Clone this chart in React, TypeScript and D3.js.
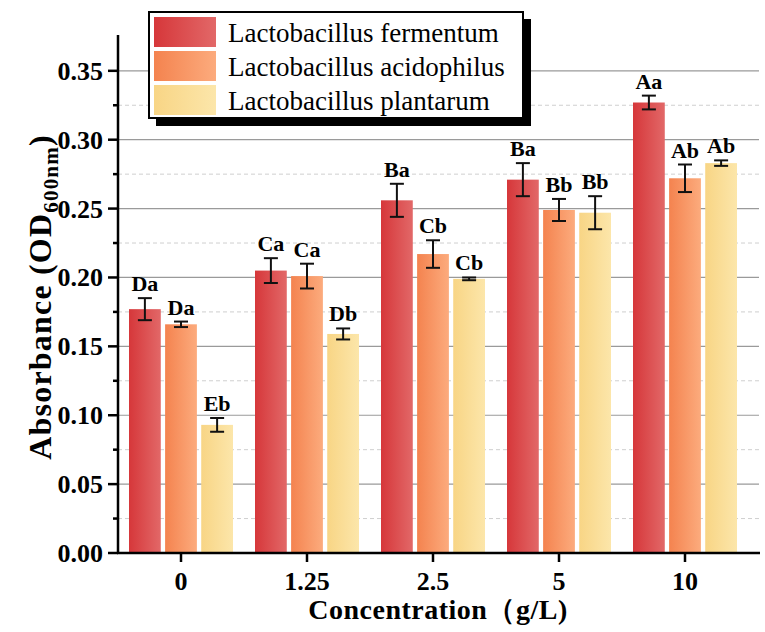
import * as d3 from 'd3';
import { useEffect, useRef } from 'react';

// data
const categories = ['0', '1.25', '2.5', '5', '10'];
const seriesNames = ['Lactobacillus fermentum', 'Lactobacillus acidophilus', 'Lactobacillus plantarum'];

const fermentum = [0.177, 0.205, 0.256, 0.271, 0.327];
const fermentumErr = [0.008, 0.009, 0.012, 0.012, 0.005];
const fermentumLabels = ['Da', 'Ca', 'Ba', 'Ba', 'Aa'];

const acidophilus = [0.166, 0.201, 0.217, 0.249, 0.272];
const acidophilusErr = [0.002, 0.009, 0.010, 0.008, 0.010];
const acidophilusLabels = ['Da', 'Ca', 'Cb', 'Bb', 'Ab'];

const plantarum = [0.093, 0.159, 0.199, 0.247, 0.283];
const plantarumErr = [0.005, 0.004, 0.001, 0.012, 0.002];
const plantarumLabels = ['Eb', 'Db', 'Cb', 'Bb', 'Ab'];

const yTicks = [0, 0.05, 0.1, 0.15, 0.2, 0.25, 0.3, 0.35];
const yMinorTicks = [0.025, 0.075, 0.125, 0.175, 0.225, 0.275, 0.325];

const colors = [
  ['#d6373a', '#e26868'],
  ['#f4834f', '#fcab7d'],
  ['#f8d585', '#fce6aa'],
];

const W = 765;
const H = 632;
const serif = "'Liberation Serif', 'DejaVu Serif', Tinos, 'Times New Roman', Times, serif";

export default function App() {
  const svgRef = useRef<SVGSVGElement>(null);

  useEffect(() => {
    const svg = d3.select(svgRef.current);
    svg.selectAll('*').remove();

    const left = 118;
    const right = 759;
    const bottom = 553;
    const top = 35;

    const x = d3.scaleBand().domain(categories).range([left, 748]);
    const y = d3.scaleLinear().domain([0, 0.376]).range([bottom, top]);

    const series = [
      { name: seriesNames[0], values: fermentum, err: fermentumErr, labels: fermentumLabels },
      { name: seriesNames[1], values: acidophilus, err: acidophilusErr, labels: acidophilusLabels },
      { name: seriesNames[2], values: plantarum, err: plantarumErr, labels: plantarumLabels },
    ];
    const xs = d3.scaleBand().domain(['0', '1', '2']).range([-52, 52]).paddingInner(0.12);

    const defs = svg.append('defs');
    colors.forEach((c, i) => {
      const g = defs
        .append('linearGradient')
        .attr('id', 'grad' + i)
        .attr('x1', '0%')
        .attr('x2', '100%')
        .attr('y1', '0%')
        .attr('y2', '0%');
      g.append('stop').attr('offset', '0%').attr('stop-color', c[0]);
      g.append('stop').attr('offset', '100%').attr('stop-color', c[1]);
    });

    // grid
    svg
      .append('g')
      .selectAll('line')
      .data(yMinorTicks)
      .enter()
      .append('line')
      .attr('x1', left)
      .attr('x2', right)
      .attr('y1', (d) => y(d))
      .attr('y2', (d) => y(d))
      .attr('stroke', '#cfcfcf')
      .attr('stroke-dasharray', '4,3')
      .attr('stroke-width', 1);
    svg
      .append('g')
      .selectAll('line')
      .data(yTicks.slice(1))
      .enter()
      .append('line')
      .attr('x1', left)
      .attr('x2', right)
      .attr('y1', (d) => y(d))
      .attr('y2', (d) => y(d))
      .attr('stroke', '#9a9a9a')
      .attr('stroke-width', 1.2);

    // bars
    series.forEach((s, si) => {
      const g = svg.append('g');
      const cx = (i: number) => (x(categories[i]) as number) + x.bandwidth() / 2 + (xs(String(si)) as number);
      const bw = xs.bandwidth();
      g.selectAll('rect')
        .data(s.values)
        .enter()
        .append('rect')
        .attr('x', (d, i) => cx(i))
        .attr('width', bw)
        .attr('y', (d) => y(d))
        .attr('height', (d) => bottom - y(d))
        .attr('fill', 'url(#grad' + si + ')');

      s.values.forEach((v, i) => {
        const mx = cx(i) + bw / 2;
        const hi = y(v + s.err[i]);
        const lo = y(v - s.err[i]);
        g.append('line').attr('x1', mx).attr('x2', mx).attr('y1', hi).attr('y2', lo).attr('stroke', '#111').attr('stroke-width', 2);
        [hi, lo].forEach((yy) => {
          g.append('line').attr('x1', mx - 7).attr('x2', mx + 7).attr('y1', yy).attr('y2', yy).attr('stroke', '#111').attr('stroke-width', 2);
        });
        g.append('text')
          .attr('x', mx)
          .attr('y', hi - 7)
          .attr('text-anchor', 'middle')
          .style('font-family', serif)
          .attr('font-weight', 'bold')
          .attr('font-size', 22)
          .text(s.labels[i]);
      });
    });

    // axes
    const axis = svg.append('g').attr('stroke', '#000');
    axis.append('line').attr('x1', left).attr('x2', left).attr('y1', top).attr('y2', bottom + 1).attr('stroke-width', 2.5);
    axis.append('line').attr('x1', left - 1).attr('x2', right + 1).attr('y1', bottom).attr('y2', bottom).attr('stroke-width', 2.5);
    axis
      .selectAll('.maj')
      .data(yTicks)
      .enter()
      .append('line')
      .attr('x1', left - 10)
      .attr('x2', left)
      .attr('y1', (d) => y(d))
      .attr('y2', (d) => y(d))
      .attr('stroke-width', 2.5);
    axis
      .selectAll('.min')
      .data(yMinorTicks)
      .enter()
      .append('line')
      .attr('x1', left - 5)
      .attr('x2', left)
      .attr('y1', (d) => y(d))
      .attr('y2', (d) => y(d))
      .attr('stroke-width', 2.5);
    axis
      .selectAll('.xt')
      .data(categories)
      .enter()
      .append('line')
      .attr('x1', (d) => (x(d) as number) + x.bandwidth() / 2)
      .attr('x2', (d) => (x(d) as number) + x.bandwidth() / 2)
      .attr('y1', bottom)
      .attr('y2', bottom + 9)
      .attr('stroke-width', 2.5);

    svg
      .append('g')
      .selectAll('text')
      .data(yTicks)
      .enter()
      .append('text')
      .attr('x', left - 15)
      .attr('y', (d) => y(d) + 9)
      .attr('text-anchor', 'end')
      .style('font-family', serif)
      .attr('font-weight', 'bold')
      .attr('font-size', 26)
      .text((d) => d3.format('.2f')(d));

    svg
      .append('g')
      .selectAll('text')
      .data(categories)
      .enter()
      .append('text')
      .attr('x', (d) => (x(d) as number) + x.bandwidth() / 2)
      .attr('y', 590)
      .attr('text-anchor', 'middle')
      .style('font-family', serif)
      .attr('font-weight', 'bold')
      .attr('font-size', 26)
      .text((d) => d);

    svg
      .append('text')
      .attr('x', 438)
      .attr('y', 619)
      .attr('text-anchor', 'middle')
      .style('font-family', serif)
      .attr('font-weight', 'bold')
      .attr('font-size', 28)
      .attr('letter-spacing', 0.5)
      .text('Concentration（g/L)');

    const yt = svg
      .append('text')
      .attr('transform', 'translate(51,297) rotate(-90)')
      .attr('text-anchor', 'middle')
      .style('font-family', serif)
      .attr('font-weight', 'bold')
      .attr('font-size', 32)
      .attr('letter-spacing', 1.2);
    yt.append('tspan').text('Absorbance (OD');
    yt.append('tspan').attr('font-size', 21).attr('dy', 7).text('600nm');
    yt.append('tspan').attr('dy', -7).text(')');

    // legend
    const lg = svg.append('g');
    lg.append('rect').attr('x', 156).attr('y', 19).attr('width', 375).attr('height', 107).attr('fill', '#000');
    lg.append('rect').attr('x', 149).attr('y', 12).attr('width', 374).attr('height', 106).attr('fill', '#fff').attr('stroke', '#000').attr('stroke-width', 2);
    seriesNames.forEach((n, i) => {
      lg.append('rect')
        .attr('x', 154)
        .attr('y', 17 + i * 34)
        .attr('width', 62)
        .attr('height', 30)
        .attr('fill', 'url(#grad' + i + ')');
      lg.append('text')
        .attr('x', 228)
        .attr('y', 42 + i * 34)
        .style('font-family', serif)
        .attr('font-size', 27)
        .text(n);
    });
  }, []);

  return (
    <svg
      ref={svgRef}
      width={W}
      height={H}
      style={{ position: 'absolute', left: 0, top: 0, background: '#fff' }}
    ></svg>
  );
}
